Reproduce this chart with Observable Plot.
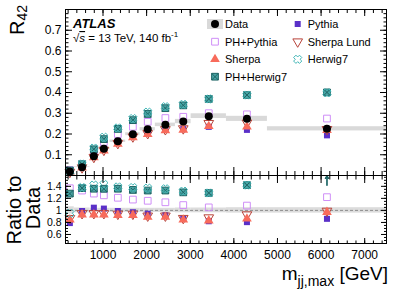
<!DOCTYPE html>
<html><head><meta charset="utf-8">
<script src="https://cdn.jsdelivr.net/npm/d3@7"></script>
<script src="https://cdn.jsdelivr.net/npm/@observablehq/plot@0.6"></script>
<style>
html,body{margin:0;padding:0;background:#fff;}
#chart{position:relative;width:407px;height:292px;font-family:"Liberation Sans",Arial,Helvetica,sans-serif;}
#chart svg{position:absolute;left:0;overflow:visible;}
</style></head><body><div id="chart"></div>
<script>
// ---- data ----
const binLow    = [140, 340, 700, 880, 1160, 1520, 1850, 2200, 2660, 3020, 3830, 4770];
const binHigh   = [340, 700, 880, 1160, 1520, 1850, 2200, 2660, 3020, 3830, 4770, 7500];
const binCenter = [240, 520, 790, 1020, 1340, 1685, 2025, 2430, 2840, 3425, 4300, 6135];
const dataR42    = [0.019, 0.040, 0.093, 0.129, 0.165, 0.199, 0.223, 0.244, 0.260, 0.286, 0.273, 0.225];
const dataRelUnc = [0.06, 0.04, 0.035, 0.035, 0.035, 0.035, 0.035, 0.035, 0.04, 0.04, 0.045, 0.045];
const pythia     = [0.0150, 0.0396, 0.0972, 0.1329, 0.1634, 0.1930, 0.2107, 0.2245, 0.2236, 0.2345, 0.2198, 0.1935];
const phPythia   = [0.0260, 0.0532, 0.1190, 0.1613, 0.1997, 0.2348, 0.2587, 0.2769, 0.2830, 0.3003, 0.2948, 0.2745];
const sherpaLund = [0.0165, 0.0380, 0.0884, 0.1226, 0.1551, 0.1871, 0.2029, 0.2220, 0.2262, 0.2517, 0.2539, 0.2228];
const sherpa     = [0.0161, 0.0372, 0.0865, 0.1200, 0.1518, 0.1831, 0.1985, 0.2172, 0.2197, 0.2374, 0.2348, 0.2183];
const herwig7    = [0.0181, 0.0552, 0.1321, 0.1845, 0.2294, 0.2746, 0.3055, 0.3318, 0.3432, 0.3689, 0.3877, 0.3983];
const phHerwig7  = [0.0243, 0.0548, 0.1265, 0.1754, 0.2244, 0.2667, 0.2966, 0.3245, 0.3380, 0.3689, 0.3877, 0.4005];
const xTicks     = [1000, 2000, 3000, 4000, 5000, 6000, 7000];
const yTicksTop  = [0.1, 0.2, 0.3, 0.4, 0.5, 0.6, 0.7];
const yTicksRatio = [0.6, 0.8, 1, 1.2, 1.4];

// ---- symbols ----
const triDown = {draw(ctx, size){ const y = -Math.sqrt(size/(Math.sqrt(3)*3)); ctx.moveTo(0, -y*2); ctx.lineTo(-Math.sqrt(3)*y, y); ctx.lineTo(Math.sqrt(3)*y, y); ctx.closePath(); }};
const squareX = {draw(ctx, size){ const h = Math.sqrt(size)/2; ctx.moveTo(-h,-h); ctx.lineTo(h,-h); ctx.lineTo(h,h); ctx.lineTo(-h,h); ctx.closePath(); ctx.moveTo(-h,-h); ctx.lineTo(h,h); ctx.moveTo(h,-h); ctx.lineTo(-h,h); }};
const openX = {draw(ctx, size){ const L = Math.sqrt(size)/2*1.2, a = L*0.4, c = Math.SQRT1_2;
  const pts = [[a,-L],[a,-a],[L,-a],[L,a],[a,a],[a,L],[-a,L],[-a,a],[-L,a],[-L,-a],[-a,-a],[-a,-L]];
  pts.forEach(([x,y],i)=>{ const X=(x-y)*c, Y=(x+y)*c; i ? ctx.lineTo(X,Y) : ctx.moveTo(X,Y); }); ctx.closePath(); }};

const series = [
  {name:"Pythia",      values: pythia,     symbol: d3.symbolSquare,   fill:"#5a30c8", stroke:"none",    r:3.4},
  {name:"PH+Pythia",   values: phPythia,   symbol: d3.symbolSquare,   fill:"none",    stroke:"#cf8ef7", r:3.8},
  {name:"Sherpa Lund", values: sherpaLund, symbol: triDown,           fill:"none",    stroke:"#b8433a", r:3.6},
  {name:"Sherpa",      values: sherpa,     symbol: d3.symbolTriangle, fill:"#f86b5b", stroke:"none",    r:3.6},
  {name:"PH+Herwig7",  values: phHerwig7,  symbol: squareX,           fill:"#4aa3a3", stroke:"#1d6464", r:3.8},
  {name:"Herwig7",     values: herwig7,    symbol: openX,             fill:"none",    stroke:"#41b6b6", r:3.9}
];

const rows = binCenter.map((c,i)=>({c, lo: binLow[i], hi: binHigh[i], data: dataR42[i], rel: dataRelUnc[i]}));
const rDom = [0.45, 1.58];
const W = 407, ML = 65, MR = 21;
const font = '"Liberation Sans",Arial,Helvetica,sans-serif';
const xMinor = d3.range(200, 7500, 200);
const yMinorTop = d3.range(0.02, 0.8, 0.02);
const yMinorRatio = d3.range(0.5, 1.58, 0.05);
const noText = {fill:"none", label:null};

const seriesMarksTop = series.map(s => Plot.dot(binCenter.map((c,i)=>({c, v: s.values[i]})),
  {x:"c", y:"v", symbol: s.symbol, r: s.r, fill: s.fill, stroke: s.stroke, strokeWidth: 1}));

const topPlot = Plot.plot({
  width: W, height: 176, marginLeft: ML, marginRight: MR, marginTop: 9, marginBottom: 1,
  x: {domain: [140, 7500]}, y: {domain: [0, 0.8]},
  style: {background: "transparent", fontFamily: font, fontSize: "12px", color: "black"},
  marks: [
    Plot.rect(rows, {x1:"lo", x2:"hi", y1: d=>d.data*(1-d.rel), y2: d=>d.data*(1+d.rel), fill:"#d9d9d9"}),
    ...seriesMarksTop,
    Plot.dot(rows, {x:"c", y:"data", r:4, fill:"black"}),
    Plot.frame({stroke:"black"}),
    Plot.axisY(yMinorTop, {anchor:"left", tickSize:-3.5, ...noText}),
    Plot.axisY(yTicksTop, {anchor:"left", tickSize:-7, ...noText}),
    Plot.axisY(yMinorTop, {anchor:"right", tickSize:-3.5, ...noText}),
    Plot.axisY(yTicksTop, {anchor:"right", tickSize:-7, ...noText}),
    Plot.axisY(yTicksTop, {anchor:"left", tickSize:0, tickPadding:4, label:null, tickFormat: d=>d.toFixed(1)}),
    Plot.axisX(xMinor, {anchor:"top", tickSize:-3, ...noText}),
    Plot.axisX(xTicks, {anchor:"top", tickSize:-6, ...noText}),
    Plot.axisX(xMinor, {anchor:"bottom", tickSize:-4, ...noText}),
    Plot.axisX(xTicks, {anchor:"bottom", tickSize:-8, ...noText})
  ]
});

const ratioRows = series.flatMap(s => binCenter.map((c,i)=>({s, c, ratio: s.values[i]/dataR42[i]})));
const inRange = ratioRows.filter(d => d.ratio >= rDom[0] && d.ratio <= rDom[1]);
const offScale = ratioRows.filter(d => d.ratio > rDom[1]);
const seriesMarksRatio = series.map(s => Plot.dot(inRange.filter(d=>d.s===s),
  {x:"c", y:"ratio", symbol: s.symbol, r: s.r, fill: s.fill, stroke: s.stroke, strokeWidth: 1}));

const ratioPlot = Plot.plot({
  width: W, height: 117, marginLeft: ML, marginRight: MR, marginTop: 0, marginBottom: 49,
  x: {domain: [140, 7500]}, y: {domain: rDom},
  style: {background: "transparent", fontFamily: font, fontSize: "12px", color: "black"},
  marks: [
    Plot.rect(rows, {x1:"lo", x2:"hi", y1: d=>1-d.rel, y2: d=>1+d.rel, fill:"#dcdcdc"}),
    Plot.ruleY([1], {stroke:"#8c8c8c", strokeDasharray:"3,2"}),
    ...seriesMarksRatio,
    Plot.arrow(offScale, {x1:"c", x2:"c", y1: d=>1.42, y2: d=>1.575, stroke: "#1d6464", strokeWidth: 1.2, headLength: 5}),
    Plot.frame({stroke:"black"}),
    Plot.axisY(yMinorRatio, {anchor:"left", tickSize:-3, ...noText}),
    Plot.axisY(yTicksRatio, {anchor:"left", tickSize:-6, ...noText}),
    Plot.axisY(yMinorRatio, {anchor:"right", tickSize:-3, ...noText}),
    Plot.axisY(yTicksRatio, {anchor:"right", tickSize:-6, ...noText}),
    Plot.axisY(yTicksRatio, {anchor:"left", tickSize:0, tickPadding:4, label:null, fontSize: 10.5, tickFormat: d=>String(d)}),
    Plot.axisX(xMinor, {anchor:"top", tickSize:-3.5, ...noText}),
    Plot.axisX(xTicks, {anchor:"top", tickSize:-7, ...noText}),
    Plot.axisX(xMinor, {anchor:"bottom", tickSize:-2.5, ...noText}),
    Plot.axisX(xTicks, {anchor:"bottom", tickSize:-5, ...noText}),
    Plot.axisX(xTicks, {anchor:"bottom", tickSize:0, tickPadding:7, label:null, tickFormat: d=>String(d)})
  ]
});

const chart = document.getElementById("chart");
topPlot.style.top = "0px";
ratioPlot.style.top = "175px";
chart.appendChild(topPlot);
chart.appendChild(ratioPlot);

// ---- overlay: titles, labels, legend ----
const ov = d3.select(chart).append("svg").attr("width", W).attr("height", 292)
  .style("top","0px").style("pointer-events","none").style("font-family", font);

ov.append("text").attr("x",73).attr("y",27.5).attr("font-size",13).attr("font-weight","bold").attr("font-style","italic").text("ATLAS");
const en = ov.append("text").attr("x",73).attr("y",42).attr("font-size",11.5);
en.append("tspan").text("\u221A");
en.append("tspan").attr("font-style","italic").attr("text-decoration","overline").text("s");
en.append("tspan").text(" = 13 TeV, 140 fb");
en.append("tspan").attr("font-size",8).attr("dy",-5).text("-1");

const yl = ov.append("text").attr("transform","translate(24,5) rotate(-90)").attr("text-anchor","end").attr("font-size",20);
yl.append("tspan").text("R");
yl.append("tspan").attr("font-size",14).attr("dy",3).text("42");

ov.append("text").attr("transform","translate(21,210) rotate(-90)").attr("text-anchor","middle").attr("font-size",20).text("Ratio to");
ov.append("text").attr("transform","translate(40,208) rotate(-90)").attr("text-anchor","middle").attr("font-size",20).text("Data");

const xl = ov.append("text").attr("x",388).attr("y",280).attr("text-anchor","end").attr("font-size",19);
xl.append("tspan").text("m");
xl.append("tspan").attr("font-size",14).attr("dy",6).text("jj,max");
xl.append("tspan").attr("dy",-6).text(" [GeV]");

// legend
const legendCols = [
  {x: 215, items: ["Data", "PH+Pythia", "Sherpa", "PH+Herwig7"]},
  {x: 297.7, items: ["Pythia", "Sherpa Lund", "Herwig7"]}
];
const rowY = [24, 41.7, 59.3, 76.7];
legendCols.forEach(col => col.items.forEach((name, j) => {
  const y = rowY[j];
  if (name === "Data") {
    ov.append("rect").attr("x", col.x-8).attr("y", y-5).attr("width",16).attr("height",10).attr("fill","#d9d9d9");
    ov.append("circle").attr("cx", col.x).attr("cy", y).attr("r", 4).attr("fill","black");
  } else {
    const s = series.find(t => t.name === name);
    ov.append("path").attr("transform", `translate(${col.x},${y})`)
      .attr("d", d3.symbol(s.symbol, Math.PI*s.r*s.r)())
      .attr("fill", s.fill).attr("stroke", s.stroke).attr("stroke-width", 1);
  }
  ov.append("text").attr("x", col.x+10).attr("y", y).attr("dy","0.35em").attr("font-size",11).text(name);
}));
</script></body></html>
